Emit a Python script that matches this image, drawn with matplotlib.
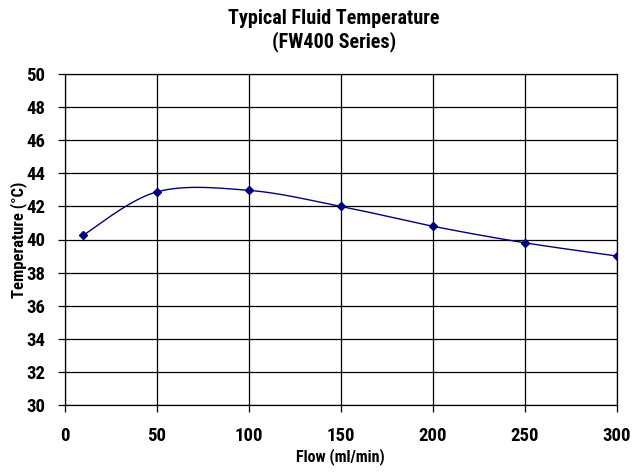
import numpy as np
import matplotlib
matplotlib.use("Agg")
import matplotlib.pyplot as plt

plt.rcParams['font.family'] = ['Roboto Condensed', 'DejaVu Sans']
plt.rcParams['font.weight'] = 'bold'

# data
flow = [10, 50, 100, 150, 200, 250, 300]
temp = [40.27, 42.88, 42.97, 42.0, 40.8, 39.8, 39.0]
x_ticks = [0, 50, 100, 150, 200, 250, 300]
y_ticks = [30, 32, 34, 36, 38, 40, 42, 44, 46, 48, 50]


def smooth(xs, ys, sx, sy, n=40):
    # Catmull-Rom style smoothing (like Excel smoothed lines), done in screen-ish units
    p = np.column_stack([np.array(xs) * sx, np.array(ys) * sy])
    p = np.vstack([p[0], p, p[-1]])
    out = []
    for i in range(1, len(p) - 2):
        p0, p1, p2, p3 = p[i - 1], p[i], p[i + 1], p[i + 2]
        c1 = p1 + (p2 - p0) / 6.0
        c2 = p2 - (p3 - p1) / 6.0
        t = np.linspace(0, 1, n)[:, None]
        seg = ((1 - t) ** 3) * p1 + 3 * ((1 - t) ** 2) * t * c1 + 3 * (1 - t) * t ** 2 * c2 + t ** 3 * p2
        out.append(seg if i == 1 else seg[1:])
    out = np.vstack(out)
    return out[:, 0] / sx, out[:, 1] / sy


fig = plt.figure(figsize=(6.34, 4.72), dpi=100)
ax = fig.add_axes([65 / 634, 1 - 405 / 472, 552 / 634, 331 / 472])

cx, cy = smooth(flow, temp, 552 / 300, 331 / 20)
ax.plot(cx, cy, color='#000080', lw=1.0, zorder=3)
ax.plot(flow, temp, linestyle='none', marker='D', markersize=4, color='#000080', zorder=4)

ax.set_xlim(0, 300)
ax.set_ylim(30, 50)
ax.set_xticks(x_ticks)
ax.set_yticks(y_ticks)
ax.grid(True, color='black', lw=0.9)
ax.set_axisbelow(True)
for s in ax.spines.values():
    s.set_color('black')
    s.set_linewidth(0.9)
ax.tick_params(direction='out', length=5, width=0.9, labelsize=13.5, colors='black')
ax.tick_params(axis='x', pad=11)
ax.tick_params(axis='y', pad=9)

ax.set_xlabel('Flow (ml/min)', fontsize=11.5, fontweight='bold', va='center')
ax.set_ylabel('Temperature (°C)', fontsize=12, fontweight='bold', va='center')
ax.xaxis.set_label_coords(275 / 552, (405 - 457) / 331)
ax.yaxis.set_label_coords((18.5 - 65) / 552, 0.5)

fig.text(334 / 634, 1 - 18 / 472, 'Typical Fluid Temperature', ha='center', va='center',
         fontsize=14.5, fontweight='bold')
fig.text(334 / 634, 1 - 42 / 472, '(FW400 Series)', ha='center', va='center',
         fontsize=14.5, fontweight='bold')

fig.savefig('out.png', dpi=100)
